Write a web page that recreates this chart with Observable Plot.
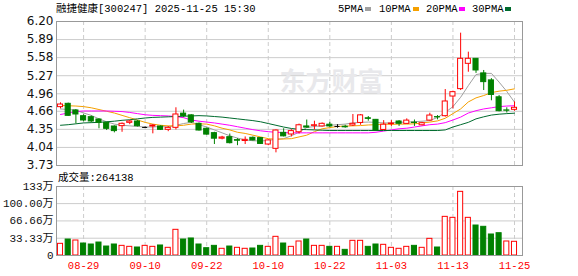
<!DOCTYPE html>
<html><head><meta charset="utf-8">
<script src="https://cdn.jsdelivr.net/npm/d3@7"></script>
<script src="https://cdn.jsdelivr.net/npm/@observablehq/plot@0.6"></script>
<style>
body{margin:0;background:#fff;}
#wrap{position:relative;width:578px;height:276px;overflow:hidden;background:#fff;}
.t{position:absolute;font-family:"Liberation Mono","DejaVu Sans Mono","Noto Sans CJK SC";font-size:10.5px;color:#000;white-space:nowrap;line-height:1;}
.sq{position:absolute;width:6px;height:4px;}
#price,#vol{position:absolute;left:0;}
#price{top:0;} #vol{top:170px;}
#vol svg{background:transparent !important;}
</style></head><body>
<div id="wrap">
  <div class="t" style="left:56px;top:4px;">融捷健康[300247] 2025-11-25 15:30</div>
  <div class="t" style="left:338px;top:4px;">5PMA</div><div class="sq" style="left:365px;top:7px;background:#a0a0a0"></div>
  <div class="t" style="left:379px;top:4px;">10PMA</div><div class="sq" style="left:413px;top:7px;background:#f5a000"></div>
  <div class="t" style="left:426px;top:4px;">20PMA</div><div class="sq" style="left:459px;top:7px;background:#ff00ff"></div>
  <div class="t" style="left:472px;top:4px;">30PMA</div><div class="sq" style="left:505px;top:7px;background:#006b2e"></div>
  <div id="price"></div>
  <div id="vol"></div>
  <div class="t" style="left:58px;top:173px;">成交量:264138</div>
</div>
<script>
const dates = ["08-26","08-27","08-28","08-29","09-01","09-02","09-03","09-04","09-05","09-08","09-09","09-10","09-11","09-12","09-15","09-16","09-17","09-18","09-19","09-22","09-23","09-24","09-25","09-26","09-29","09-30","10-09","10-10","10-13","10-14","10-15","10-16","10-17","10-20","10-21","10-22","10-23","10-24","10-27","10-28","10-29","10-30","10-31","11-03","11-04","11-05","11-06","11-07","11-10","11-11","11-12","11-13","11-14","11-17","11-18","11-19","11-20","11-21","11-24","11-25"];
const open  = [4.731,4.788,4.674,4.576,4.559,4.519,4.462,4.399,4.405,4.462,4.485,4.383,4.399,4.399,4.342,4.376,4.62,4.59,4.445,4.36,4.285,4.19,4.216,4.165,4.15,4.205,4.20,4.09,4.016,4.29,4.262,4.30,4.40,4.41,4.40,4.43,4.40,4.395,4.416,4.46,4.54,4.513,4.34,4.44,4.485,4.444,4.465,4.42,4.50,4.56,4.576,4.913,5.04,5.474,5.56,5.31,5.19,4.90,4.675,4.685];
const high  = [4.805,4.80,4.69,4.60,4.58,4.53,4.47,4.41,4.46,4.50,4.50,4.39,4.43,4.41,4.40,4.72,4.68,4.60,4.46,4.37,4.30,4.23,4.27,4.19,4.22,4.22,4.21,4.17,4.34,4.36,4.345,4.44,4.51,4.49,4.46,4.47,4.43,4.42,4.605,4.605,4.57,4.52,4.50,4.50,4.50,4.53,4.51,4.47,4.627,4.587,5.033,5.005,6.00,5.674,5.56,5.36,5.22,4.93,4.72,4.82];
const low   = [4.702,4.575,4.445,4.48,4.46,4.36,4.33,4.29,4.30,4.43,4.39,4.37,4.273,4.33,4.31,4.34,4.55,4.45,4.32,4.25,4.09,4.17,4.10,4.07,4.09,4.15,4.09,4.07,3.947,4.22,4.22,4.27,4.37,4.34,4.39,4.38,4.37,4.37,4.40,4.42,4.49,4.33,4.33,4.40,4.40,4.44,4.40,4.41,4.49,4.513,4.56,4.702,5.016,5.33,5.31,5.016,4.84,4.65,4.63,4.66];
const close = [4.776,4.582,4.605,4.502,4.485,4.462,4.359,4.32,4.445,4.485,4.405,4.383,4.416,4.342,4.376,4.605,4.58,4.47,4.33,4.26,4.19,4.21,4.113,4.155,4.17,4.16,4.10,4.16,4.33,4.23,4.32,4.42,4.38,4.42,4.445,4.40,4.40,4.385,4.445,4.59,4.53,4.33,4.43,4.45,4.445,4.50,4.46,4.455,4.587,4.555,4.828,4.988,5.56,5.56,5.36,5.16,4.94,4.662,4.67,4.72];
const volume = [22.5,30.8,28.9,23.1,21.2,25.0,17.3,21.2,18.6,16.7,15.4,18.6,16.7,19.3,14.8,49.5,30.8,32.8,21.2,14.1,18.6,12.9,17.3,14.8,12.9,13.5,18.6,16.7,36.0,23.1,16.7,27.0,30.8,18.6,18.6,16.7,16.7,10.9,28.3,28.3,16.7,21.2,20.6,14.8,12.9,16.7,18.6,14.8,32.1,15.4,74.5,72.6,122.7,72.6,57.8,55.3,40.5,43.0,27.0,26.41];
const volUp = [1,0,1,0,0,0,0,0,1,1,0,1,1,0,1,1,0,0,0,0,0,1,0,1,1,0,0,1,1,0,1,1,0,1,1,0,1,0,1,1,0,0,1,1,1,1,0,1,1,0,1,1,1,1,0,0,0,0,1,1];
const ma5  = [4.70,4.69,4.68,4.63,4.59,4.53,4.48,4.44,4.42,4.41,4.40,4.39,4.39,4.40,4.39,4.42,4.45,4.47,4.43,4.39,4.34,4.29,4.24,4.20,4.17,4.155,4.15,4.16,4.18,4.19,4.24,4.30,4.38,4.40,4.41,4.42,4.43,4.44,4.46,4.47,4.475,4.47,4.46,4.46,4.47,4.475,4.48,4.49,4.50,4.555,4.64,4.74,4.90,5.10,5.29,5.31,5.31,5.16,5.00,4.816];
const ma10 = [4.76,4.755,4.75,4.74,4.72,4.69,4.66,4.63,4.59,4.55,4.51,4.47,4.44,4.42,4.41,4.41,4.42,4.44,4.445,4.44,4.41,4.37,4.34,4.30,4.28,4.25,4.22,4.19,4.18,4.185,4.19,4.22,4.25,4.31,4.36,4.38,4.40,4.405,4.41,4.415,4.425,4.43,4.44,4.435,4.44,4.44,4.445,4.46,4.475,4.495,4.54,4.62,4.70,4.82,4.89,4.93,4.98,5.005,5.02,5.045];
const ma20 = [4.605,4.63,4.655,4.665,4.665,4.665,4.665,4.66,4.655,4.64,4.62,4.60,4.59,4.585,4.58,4.57,4.55,4.51,4.49,4.475,4.46,4.44,4.42,4.395,4.37,4.345,4.325,4.31,4.30,4.295,4.29,4.29,4.29,4.29,4.29,4.29,4.29,4.29,4.29,4.29,4.29,4.30,4.32,4.34,4.36,4.37,4.39,4.41,4.43,4.44,4.465,4.51,4.56,4.63,4.67,4.70,4.72,4.74,4.75,4.755];
const ma30 = [4.42,4.43,4.445,4.46,4.465,4.47,4.48,4.49,4.505,4.515,4.53,4.545,4.555,4.56,4.565,4.57,4.575,4.58,4.585,4.58,4.57,4.56,4.545,4.53,4.515,4.50,4.48,4.45,4.42,4.39,4.365,4.35,4.345,4.34,4.335,4.33,4.33,4.33,4.33,4.33,4.33,4.33,4.33,4.33,4.33,4.33,4.33,4.33,4.33,4.33,4.34,4.39,4.43,4.47,4.53,4.565,4.595,4.61,4.62,4.627];
const priceTicks = [3.73,4.04,4.35,4.66,4.96,5.27,5.58,5.89,6.20];
const volTicks = [0,33.33,66.66,100,133];
const volTickLabels = ["0","33.33万","66.66万","100.00万","133万"];
const dateLabels = ["08-29","09-10","09-22","10-10","10-22","11-03","11-13","11-25"];

const RED = "#ff0000", GREEN = "#008000", GRID = "#cccccc";
const tickIdx = dateLabels.map(d => dates.indexOf(d));
const candles = dates.map((d, i) => ({i, d, o: open[i], h: high[i], l: low[i], c: close[i], v: volume[i], up: volUp[i]}));
const colorOf = d => d.c > d.o ? RED : d.c < d.o ? GREEN : "#000000";
const xDomain = [-0.52, 60.04];
const W = 0.33;
const maSeries = [[ma5, "#a0a0a0"], [ma10, "#f5a000"], [ma20, "#ff00ff"], [ma30, "#006b2e"]];

const price = Plot.plot({
  width: 578, height: 176,
  marginTop: 21, marginBottom: 11, marginLeft: 56, marginRight: 56,
  x: {domain: xDomain, axis: null, label: null},
  y: {domain: [3.73, 6.20], axis: null, label: null},
  color: {type: "identity"},
  marks: [
    Plot.ruleY(priceTicks.slice(1, -1), {stroke: GRID}),
    Plot.ruleX(tickIdx, {stroke: GRID, strokeDasharray: "4,3"}),
    Plot.text(["东方财富"], {frameAnchor: "middle", dx: 42, dy: -11, fontSize: 26, fontWeight: "bold", fill: "#e8e8eb", fontFamily: "Noto Sans CJK SC"}),
    ...maSeries.map(([arr, col]) => Plot.line(candles, {x: "i", y: d => arr[d.i], stroke: col, strokeWidth: 1})),
    Plot.ruleX(candles, {x: "i", y1: "l", y2: "h", stroke: colorOf}),
    Plot.rect(candles.filter(d => d.o !== d.c), {x1: d => d.i - W, x2: d => d.i + W, y1: "o", y2: "c",
      fill: d => d.c > d.o ? "#ffffff" : GREEN, stroke: colorOf}),
    Plot.ruleY(candles.filter(d => d.o === d.c), {x1: d => d.i - W, x2: d => d.i + W, y: "c", stroke: "#000"}),
    Plot.axisY(priceTicks, {anchor: "left", label: null, tickSize: 0, tickPadding: 3, tickFormat: d => d.toFixed(2), fontSize: 12, fontFamily: "DejaVu Sans", fill: "#111"}),
    Plot.frame({stroke: "#999"})
  ]
});
document.getElementById("price").appendChild(price);

const vol = Plot.plot({
  width: 578, height: 106,
  marginTop: 16, marginBottom: 21, marginLeft: 56, marginRight: 56,
  x: {domain: xDomain, axis: null, label: null},
  y: {domain: [0, 133], axis: null, label: null},
  color: {type: "identity"},
  style: {background: "transparent"},
  marks: [
    Plot.ruleY(volTicks.slice(1, -1), {stroke: GRID}),
    Plot.ruleX(tickIdx, {stroke: GRID, strokeDasharray: "4,3"}),
    Plot.rect(candles, {x1: d => d.i - W, x2: d => d.i + W, y1: 0, y2: "v",
      fill: d => d.up ? "#ffffff" : GREEN, stroke: d => d.up ? RED : GREEN}),
    Plot.axisY(volTicks, {anchor: "left", label: null, tickSize: 0, tickPadding: 3, tickFormat: d => volTickLabels[volTicks.indexOf(d)], fontSize: 11, fontFamily: "Liberation Mono, Noto Sans CJK SC", fill: "#111"}),
    Plot.axisX(tickIdx, {anchor: "bottom", label: null, tickSize: 0, tickPadding: 6, tickFormat: i => dates[i], fontSize: 10.5, fontFamily: "Liberation Mono", fill: RED}),
    Plot.frame({stroke: "#999"})
  ]
});
document.getElementById("vol").appendChild(vol);
</script>
</body></html>
